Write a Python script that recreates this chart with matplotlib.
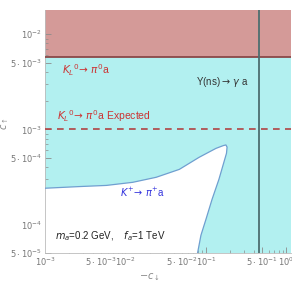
import numpy as np
import matplotlib
matplotlib.use("Agg")
import matplotlib.pyplot as plt
from matplotlib.ticker import FixedLocator, FixedFormatter, NullFormatter

plt.rcParams['font.family'] = ['Liberation Sans', 'DejaVu Sans']
plt.rcParams['mathtext.fontset'] = 'dejavusans'

# axis ranges
x_range = [1e-3, 1.14]
y_range = [5e-5, 1.8e-2]

# bound lines
kl_bound = 5.8e-3        # K_L -> pi0 a (current)
kl_expected = 1.0e-3     # K_L -> pi0 a expected
upsilon_bound = 0.45     # Y(ns) -> gamma a

# K+ -> pi+ a allowed-region contour (-c_down, c_up)
kp_x = [1e-3, 2.7e-3, 5.8e-3, 0.0123, 0.0241, 0.0467, 0.082, 0.133, 0.165, 0.177,
        0.183, 0.180, 0.167, 0.145, 0.119, 0.100, 0.0867, 0.0776]
kp_y = [2.4e-4, 2.5e-4, 2.57e-4, 2.77e-4, 3.13e-4, 3.79e-4, 5.07e-4, 6.3e-4, 6.75e-4, 6.85e-4,
        6.5e-4, 5.6e-4, 4.5e-4, 2.98e-4, 1.83e-4, 1.13e-4, 7.7e-5, 4.7e-5]

x_major = [1e-3, 5e-3, 1e-2, 5e-2, 1e-1, 5e-1, 1.0]
x_labels = [r'$10^{-3}$', r'$5\cdot10^{-3}$', r'$10^{-2}$', r'$5\cdot10^{-2}$',
            r'$10^{-1}$', r'$5\cdot10^{-1}$', r'$10^{0}$']
y_major = [5e-5, 1e-4, 5e-4, 1e-3, 5e-3, 1e-2]
y_labels = [r'$5\cdot10^{-5}$', r'$10^{-4}$', r'$5\cdot10^{-4}$', r'$10^{-3}$',
            r'$5\cdot10^{-3}$', r'$10^{-2}$']

cyan = '#b2f0f0'
red_fill = '#d49a98'
gray = '#8c8c8c'

fig = plt.figure(figsize=(2.92, 2.92), dpi=100)
ax = fig.add_axes([45/292, 1-253/292, 246/292, 243/292])
ax.set_xscale('log')
ax.set_yscale('log')
ax.set_xlim(x_range)
ax.set_ylim(y_range)

# excluded regions
ax.fill_between(x_range, [y_range[0]]*2, [kl_bound]*2, color=cyan, lw=0, zorder=1)
ax.fill_between(x_range, [kl_bound]*2, [y_range[1]]*2, color=red_fill, lw=0, zorder=1)

# allowed white pocket from K+ -> pi+ a
px = [x_range[0]] + kp_x + [kp_x[-1], x_range[0]]
py = [y_range[0]] + kp_y + [y_range[0], y_range[0]]
ax.fill(px, py, color='white', lw=0, zorder=2)
ax.plot(kp_x, kp_y, color='#6f9fd0', lw=0.9, zorder=3, solid_joinstyle='round')

ax.axhline(kl_bound, color='#8a4848', lw=1.3, zorder=4)
ax.axhline(kl_expected, color='#b04444', lw=1.2, ls=(0, (4, 3.2)), zorder=4)
ax.axvline(upsilon_bound, color='#4d6e70', lw=1.3, zorder=4)

# labels
ax.text(0.069, 0.753, r'$K_L{}^0\!\rightarrow\,\pi^0$a', color='#cc3333', fontsize=7.5,
        transform=ax.transAxes, va='center')
ax.text(0.049, 0.564, r'$K_L{}^0\!\rightarrow\,\pi^0$a Expected', color='#cc3333', fontsize=7.5,
        transform=ax.transAxes, va='center')
ax.text(0.614, 0.704, r'Y(ns)$\rightarrow\,\gamma$ a', color='#333333', fontsize=7,
        transform=ax.transAxes, va='center')
ax.text(0.305, 0.25, r'$K^{+}\!\rightarrow\,\pi^{+}$a', color='#3333dd', fontsize=7,
        transform=ax.transAxes, va='center')
ax.text(0.041, 0.07, r'$m_a$=0.2 GeV,    $f_a$=1 TeV', color='#222222', fontsize=7,
        transform=ax.transAxes, va='center')

# ticks
ax.xaxis.set_major_locator(FixedLocator(x_major))
ax.xaxis.set_major_formatter(FixedFormatter(x_labels))
ax.yaxis.set_major_locator(FixedLocator(y_major))
ax.yaxis.set_major_formatter(FixedFormatter(y_labels))
x_minor = [m * 10.0**e for e in range(-3, 1) for m in range(2, 10) if m != 5]
y_minor = [m * 10.0**e for e in range(-5, -1) for m in range(2, 10) if m != 5]
ax.xaxis.set_minor_locator(FixedLocator(x_minor))
ax.yaxis.set_minor_locator(FixedLocator(y_minor))
ax.xaxis.set_minor_formatter(NullFormatter())
ax.yaxis.set_minor_formatter(NullFormatter())
ax.tick_params(which='both', direction='in', color=gray, labelcolor='#777777',
               labelsize=6, pad=2)
ax.tick_params(which='major', length=4, width=0.6)
ax.tick_params(which='minor', length=2, width=0.5)
ax.tick_params(top=False, right=False)

for s in ['top', 'right']:
    ax.spines[s].set_visible(False)
for s in ['left', 'bottom']:
    ax.spines[s].set_color('#bbbbbb')
    ax.spines[s].set_linewidth(0.6)

ax.set_xlabel(r'$-c_\downarrow$', color='#888888', fontsize=7, family='serif')
ax.set_ylabel(r'$c_\uparrow$', color='#888888', fontsize=7, family='serif')
ax.xaxis.set_label_coords((150 - 45) / 246, -(272 - 253) / 243)
ax.yaxis.set_label_coords(-(45 - 11) / 246, 1 - (124 - 10) / 243)

fig.savefig('out.png', dpi=100)
